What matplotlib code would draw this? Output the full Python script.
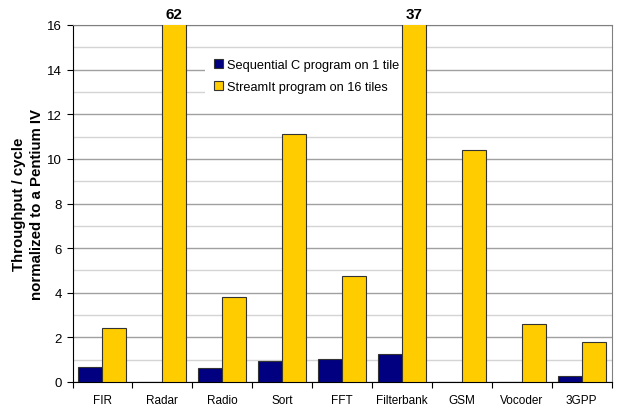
import numpy as np
import matplotlib
matplotlib.use("Agg")
import matplotlib.pyplot as plt
from matplotlib.ticker import MultipleLocator

# Benchmarks and throughput values (normalized to a Pentium IV)
benchmarks = ["FIR", "Radar", "Radio", "Sort", "FFT", "Filterbank", "GSM", "Vocoder", "3GPP"]
sequential = [0.66, 0.0, 0.61, 0.94, 1.03, 1.26, 0.0, 0.0, 0.26]
streamit = [2.43, 62, 3.79, 11.11, 4.74, 37, 10.39, 2.6, 1.80]
series_names = ["Sequential C program on 1 tile", "StreamIt program on 16 tiles"]

plt.rcParams['font.family'] = ['Liberation Sans', 'DejaVu Sans']

fig = plt.figure(figsize=(6.21, 4.10), dpi=100)
ax = fig.add_axes([72.5 / 621, 1 - 383 / 410, (611.5 - 72.5) / 621, (383 - 26) / 410])

x = np.arange(len(benchmarks))
w = 0.4
b1 = ax.bar(x - w / 2, sequential, w, color="#000080", edgecolor="#333333", linewidth=0.8, zorder=3)
b2 = ax.bar(x + w / 2, streamit, w, color="#FFCC00", edgecolor="#333333", linewidth=0.8, zorder=3)

ax.set_xlim(-0.5, len(benchmarks) - 0.5)
ax.set_ylim(0, 16)

# Values that go off the top of the chart
for xi, v in zip(x, streamit):
    if v > 16:
        ax.text(xi + w / 2, 16.2, "{:g}".format(v), ha="center", va="bottom",
                fontsize=11, fontweight="bold")

# Gridlines: darker at even values, lighter at odd
ax.yaxis.set_major_locator(MultipleLocator(2))
ax.yaxis.set_minor_locator(MultipleLocator(1))
ax.grid(axis="y", which="major", color="#a0a0a0", linewidth=1.0, zorder=0)
ax.grid(axis="y", which="minor", color="#d4d4d4", linewidth=1.0, zorder=0)
ax.tick_params(axis="y", which="minor", length=0)
ax.tick_params(axis="y", which="major", length=4, labelsize=9.5, direction="out")

# Category ticks at boundaries, labels at centers
ax.set_xticks(np.arange(len(benchmarks) + 1) - 0.5)
ax.set_xticklabels([])
ax.set_xticks(x, minor=True)
ax.set_xticklabels(benchmarks, minor=True, fontsize=8.5)
ax.tick_params(axis="x", which="minor", length=0, pad=9)
ax.tick_params(axis="x", which="major", length=4, direction="out")

ax.spines["top"].set_color("#808080")
ax.spines["right"].set_color("#808080")
ax.spines["left"].set_color("black")
ax.spines["bottom"].set_color("black")

ax.set_ylabel("Throughput / cycle\nnormalized to a Pentium IV", fontsize=10.8,
              fontweight="bold", labelpad=2, linespacing=1.4)

leg = ax.legend([b1, b2], series_names, loc="upper left",
                bbox_to_anchor=(205 / 621, 1 - 51 / 410), bbox_transform=fig.transFigure,
                fontsize=9.2, frameon=True, fancybox=False, framealpha=1,
                facecolor="white", edgecolor="none", handlelength=0.7, handleheight=0.7,
                handletextpad=0.3, labelspacing=0.75, borderpad=0.7, borderaxespad=0)
leg.set_zorder(2)

fig.savefig("out.png", dpi=100)
